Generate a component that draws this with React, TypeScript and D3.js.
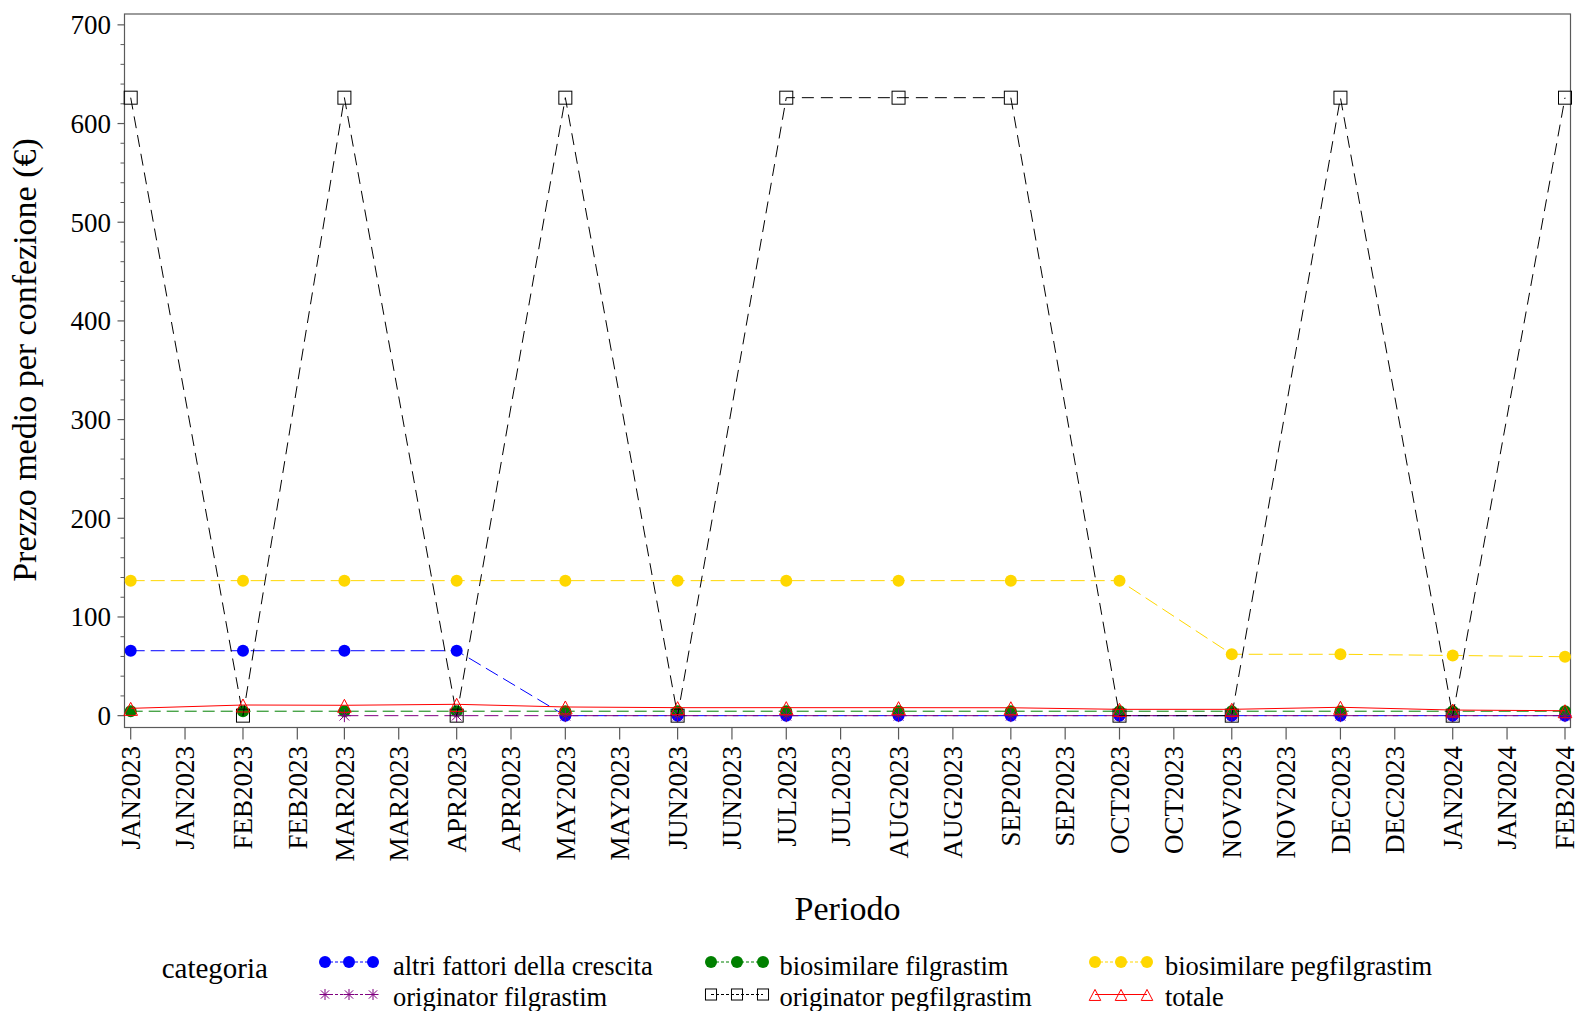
import React from "react";
import * as d3 from "d3";

const periods = [
  "2023-01-01", "2023-02-01", "2023-03-01", "2023-04-01", "2023-05-01", "2023-06-01", "2023-07-01",
  "2023-08-01", "2023-09-01", "2023-10-01", "2023-11-01", "2023-12-01", "2024-01-01", "2024-02-01",
];
const altriFattori = [65.8, 65.8, 65.8, 65.8, 0, 0, 0, 0, 0, 0, 0, 0, 0, 0];
const biosimilareFilgrastim = [4.5, 4.5, 4.5, 4.5, 4.5, 4.5, 4.5, 4.5, 4.5, 4.5, 4.5, 4.5, 4.5, 4.5];
const biosimilarePegfilgrastim = [136.8, 136.8, 136.8, 136.8, 136.8, 136.8, 136.8, 136.8, 136.8, 136.8, 62.2, 62.2, 61, 59.7];
const originatorFilgrastim: (number | null)[] = [null, null, 0, 0, 0, 0, 0, 0, 0, 0, 0, 0, 0, 0];
const originatorPegfilgrastim = [626.2, 0, 626.2, 0, 626.2, 0, 626.2, 626.2, 626.2, 0, 0, 626.2, 0, 626.2];
const totale = [7.4, 10.8, 10.5, 11.5, 8.8, 8.1, 8.1, 8.1, 8.0, 6.4, 6.4, 8.5, 5.7, 5.0];

const yTicks = [0, 100, 200, 300, 400, 500, 600, 700];
const yMinorStep = 20;
const tickDays = [1, 16];

type Marker = "circle" | "star" | "square" | "triangle";
interface Series {
  name: string;
  values: (number | null)[];
  color: string;
  dash: string | null;
  marker: Marker;
}

const series: Series[] = [
  { name: "altri fattori della crescita", values: altriFattori, color: "#0000FF", dash: "14 6", marker: "circle" },
  { name: "biosimilare filgrastim", values: biosimilareFilgrastim, color: "#008000", dash: "12 6", marker: "circle" },
  { name: "biosimilare pegfilgrastim", values: biosimilarePegfilgrastim, color: "#FFD700", dash: "14 6", marker: "circle" },
  { name: "originator filgrastim", values: originatorFilgrastim, color: "#800080", dash: "14 6", marker: "star" },
  { name: "originator pegfilgrastim", values: originatorPegfilgrastim, color: "#000000", dash: "12 7", marker: "square" },
  { name: "totale", values: totale, color: "#FF0000", dash: null, marker: "triangle" },
];

const FONT = "'Liberation Serif', 'Times New Roman', serif";
const W = 1575;
const H = 1011;
const frame = { left: 124.5, right: 1570.5, top: 14, bottom: 727.5 };

const parse = d3.utcParse("%Y-%m-%d");
const dates = periods.map((p) => parse(p) as Date);

const x = d3.scaleUtc().domain([dates[0], dates[dates.length - 1]]).range([130.7, 1565]);
const y = d3.scaleLinear().domain([-12, 711]).range([frame.bottom, frame.top]);

const monthNames = ["JAN", "FEB", "MAR", "APR", "MAY", "JUN", "JUL", "AUG", "SEP", "OCT", "NOV", "DEC"];
const xTickDates: Date[] = [];
d3.utcMonth.range(dates[0], d3.utcDay.offset(dates[dates.length - 1], 1)).forEach((m) => {
  tickDays.forEach((dd) => {
    const t = new Date(Date.UTC(m.getUTCFullYear(), m.getUTCMonth(), dd));
    if (t <= dates[dates.length - 1]) xTickDates.push(t);
  });
});
const xTickLabel = (d: Date) => monthNames[d.getUTCMonth()] + d.getUTCFullYear();

function MarkerShape({ type, cx, cy, color, size = 1 }: { type: Marker; cx: number; cy: number; color: string; size?: number }) {
  if (type === "circle") return <circle cx={cx} cy={cy} r={6 * size} fill={color} stroke="none" />;
  if (type === "square") {
    const s = 6.5 * size;
    return <rect x={cx - s} y={cy - s} width={2 * s} height={2 * s} fill="none" stroke={color} strokeWidth={1} />;
  }
  if (type === "triangle") {
    const hw = 6.8 * size;
    const p = `M${cx},${cy - 6 * size} L${cx + hw},${cy + 7 * size} L${cx - hw},${cy + 7 * size} Z`;
    return <path d={p} fill="none" stroke={color} strokeWidth={1} />;
  }
  const r = 6.5 * size;
  const a = r * 0.75;
  const d = `M${cx - r},${cy} L${cx + r},${cy} M${cx},${cy - r} L${cx},${cy + r} M${cx - a},${cy - a} L${cx + a},${cy + a} M${cx - a},${cy + a} L${cx + a},${cy - a}`;
  return <path d={d} fill="none" stroke={color} strokeWidth={1} />;
}

export default function App() {
  const minorTicks = d3.range(0, 700 + 0.001, yMinorStep).filter((v) => v % 100 !== 0);
  const legendRows = [
    { y: 962, ty: 975 },
    { y: 994.5, ty: 1006 },
  ];
  const legendCols = [
    { mx: [325, 349, 373], tx: 393 },
    { mx: [711, 737, 763], tx: 779.5 },
    { mx: [1095, 1121, 1147], tx: 1165 },
  ];
  const legendOrder = [
    [0, 1, 2],
    [3, 4, 5],
  ];

  return (
    <svg width={W} height={H} style={{ position: "absolute", left: 0, top: 0, background: "#fff" }} fontFamily={FONT}>
      <rect x={0} y={0} width={W} height={H} fill="#fff" />
      <rect x={frame.left} y={frame.top} width={frame.right - frame.left} height={frame.bottom - frame.top} fill="none" stroke="#5a5a5a" strokeWidth={1.2} />

      {yTicks.map((v) => (
        <g key={"yt" + v}>
          <line x1={frame.left - 7} x2={frame.left} y1={y(v)} y2={y(v)} stroke="#5a5a5a" strokeWidth={1.2} />
          <text x={111} y={y(v)} dy="0.35em" textAnchor="end" fontSize={27} fill="#000">
            {v}
          </text>
        </g>
      ))}
      {minorTicks.map((v) => (
        <line key={"ym" + v} x1={frame.left - 4} x2={frame.left} y1={y(v)} y2={y(v)} stroke="#5a5a5a" strokeWidth={1} />
      ))}

      {xTickDates.map((d, i) => (
        <g key={"xt" + i}>
          <line x1={x(d)} x2={x(d)} y1={frame.bottom} y2={frame.bottom + 12} stroke="#5a5a5a" strokeWidth={1.2} />
          <text transform={`translate(${x(d) + 9.3},746) rotate(-90)`} textAnchor="end" fontSize={27} fill="#000">
            {xTickLabel(d)}
          </text>
        </g>
      ))}

      <text transform="translate(36,360) rotate(-90)" textAnchor="middle" fontSize={34} fill="#000">
        Prezzo medio per confezione (€)
      </text>
      <text x={847.5} y={920} textAnchor="middle" fontSize={34} fill="#000">
        Periodo
      </text>

      {series.map((s) => {
        const pts = s.values.map((v, i) => ({ d: dates[i], v }));
        const line = d3
          .line<{ d: Date; v: number | null }>()
          .defined((p) => p.v !== null)
          .x((p) => x(p.d))
          .y((p) => y(p.v as number));
        return (
          <g key={s.name}>
            <path d={line(pts) || ""} fill="none" stroke={s.color} strokeWidth={1} strokeDasharray={s.dash || undefined} />
            {pts
              .filter((p) => p.v !== null)
              .map((p, i) => (
                <MarkerShape key={i} type={s.marker} cx={x(p.d)} cy={y(p.v as number)} color={s.color} />
              ))}
          </g>
        );
      })}

      <text x={161.7} y={978} fontSize={29} fill="#000">
        categoria
      </text>
      {legendOrder.map((row, ri) =>
        row.map((si, ci) => {
          const s = series[si];
          const col = legendCols[ci];
          const ly = legendRows[ri].y;
          return (
            <g key={"lg" + si}>
              <line
                x1={col.mx[0]}
                x2={col.mx[2]}
                y1={ly}
                y2={ly}
                stroke={s.color}
                strokeWidth={1}
                strokeDasharray={s.dash ? "3 2" : undefined}
              />
              {col.mx.map((mx, k) => (
                <MarkerShape key={k} type={s.marker} cx={mx} cy={ly} color={s.color} size={s.marker === "circle" ? 1 : 0.85} />
              ))}
              <text x={col.tx} y={legendRows[ri].ty} fontSize={26.5} fill="#000">
                {s.name}
              </text>
            </g>
          );
        })
      )}
    </svg>
  );
}
